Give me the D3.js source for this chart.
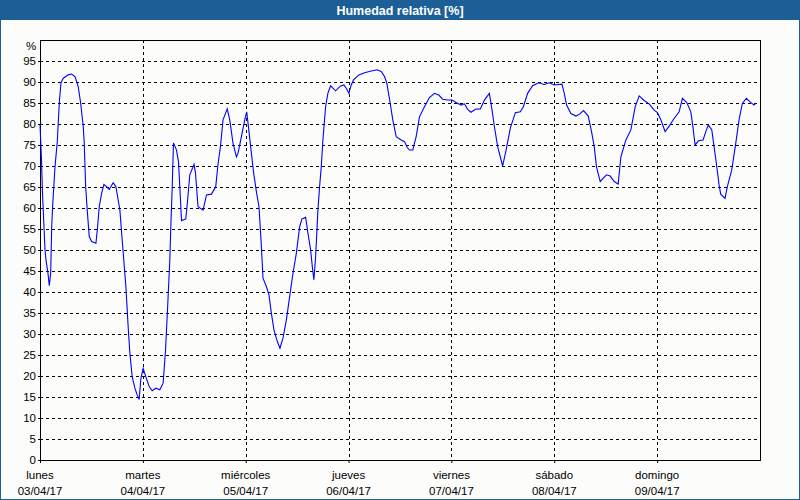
<!DOCTYPE html>
<html>
<head>
<meta charset="utf-8">
<script src="https://cdn.jsdelivr.net/npm/d3@7"></script>
<style>
  html, body { margin: 0; padding: 0; background: #fcfdfb; }
  svg { display: block; }
</style>
</head>
<body>
<script>
// ---- data ----
const title = "Humedad relativa [%]";
const dayNames = ["lunes", "martes", "miércoles", "jueves", "viernes", "sábado", "domingo"];
const dayDates = ["03/04/17", "04/04/17", "05/04/17", "06/04/17", "07/04/17", "08/04/17", "09/04/17"];
const yTicks = [0,5,10,15,20,25,30,35,40,45,50,55,60,65,70,75,80,85,90,95];
const unitLabel = "%";
// hours since 03/04/17 00:00
const hours = [0,0.35,0.58,0.93,1.17,1.4,1.86,2.17,2.49,2.73,2.96,3.5,4.03,4.5,4.89,5.43,6.59,7.39,8.16,8.92,9.48,10.09,10.32,10.65,11.02,11.49,12.05,13.05,13.44,13.82,14.38,14.91,15.54,16.15,17.08,17.71,18.24,18.64,19.27,20.04,20.57,20.97,21.51,22.14,22.67,23.14,23.53,24.07,24.7,25.47,26.17,27.03,27.96,28.73,29.29,29.75,30.29,30.52,30.83,31.15,31.85,32.32,32.62,33.02,34.02,34.41,34.95,35.95,36.28,36.88,38.05,38.84,40.01,41.01,41.55,42.1,42.71,43.69,44.27,45.04,45.83,46.2,47,47.77,48.23,48.54,49.33,49.86,50.49,51.1,51.66,52.03,52.82,53.43,53.99,54.59,55.38,55.99,56.69,57.48,58.25,59.02,59.81,60.58,61.12,61.98,62.52,63.15,63.54,63.91,64.31,64.85,65.24,65.63,66.01,66.64,67.17,67.8,68.97,70.06,70.9,71.46,72.07,72.62,73.16,74.4,75.73,77.29,78.69,79.62,80.39,80.92,81.55,82.32,83.11,84.28,85.05,85.68,86.21,86.98,87.77,88.54,89.71,90.87,92.04,93.04,93.97,95.14,96.16,97.09,98.26,99.03,99.79,100.58,101.59,102.76,103.69,104.85,105.48,106.02,106.79,107.95,108.75,109.75,110.91,112.08,112.78,113.78,114.94,116.34,117.67,118.83,120,121.79,122.33,122.87,123.88,125.05,125.98,126.82,127.92,128.69,129.32,129.85,130.72,131.42,132.19,133.05,133.98,134.91,135.54,136.71,137.87,138.87,139.81,140.97,142.14,143.3,144.07,144.86,145.86,146.8,147.96,149.13,149.9,150.92,151.86,152.39,152.85,153.63,154.72,155.35,155.95,156.75,157.28,157.82,158.45,158.83,159.84,160.38,161.4,162.34,163.11,163.88,164.81,165.75,166.6,166.99];
const humidity = [80,71.4,63.5,55.5,50,47.6,44.5,41.5,44.5,55.5,60.7,69.8,75.8,85,89.8,90.9,91.7,91.9,91.3,88.9,85,79.4,75.5,65.1,59.5,53.2,52,51.6,55.5,60.3,63.5,65.6,65.1,64.4,66,65.1,61.9,59.5,51.2,41.3,31.7,25.4,19.8,17.1,15.5,14.4,19.4,21.8,19.8,17.5,16.5,17.1,16.7,18.3,26.2,35.7,47.6,55.5,64.3,75.5,73.8,71,65.1,57,57.4,61.5,67.9,70.4,68.3,60.3,59.5,63.1,63.3,65.1,70.6,74.6,81,83.6,81,75.4,72.2,73,77,81,82.9,80.2,73,68.3,63.9,60.3,50.8,43.3,41.3,39.3,34.9,31,28.2,26.6,29,33.3,38.9,44.4,49.2,55.5,57.4,57.8,54,50,46,42.9,48.4,59.5,65.1,69.8,76.2,84.1,87.3,89.1,87.9,89,89.3,88.5,87.3,89.3,90.5,91.7,92.2,92.6,92.9,92.5,91.3,89.7,86,81,77,76.2,75.8,74.4,73.8,73.8,77,81.7,84.1,86.3,87.3,86.9,85.9,85.7,85.7,85.1,84.5,84.8,83.5,82.8,83.5,83.6,85.7,87.3,83.3,79.4,74.6,70,73.8,79,82.7,82.9,84.1,87.3,89.1,89.8,89.4,89.8,89.3,89.5,87.3,84.5,82.5,81.9,82.4,83.2,81.9,78.2,74.6,69.8,66.3,67.1,67.9,67.6,66.3,65.7,72.2,76.2,78.6,84.1,86.7,85.6,84.8,83.3,82.7,81,78.2,79.5,81.3,82.9,86.1,85.1,82.9,79,75,76,76.2,78.2,79.8,78.6,74.6,70.6,65.5,63.3,62.3,65.1,69,75.4,81,84.9,86.1,85.2,84.5,84.9];

// ---- layout ----
const W = 800, H = 500;
const plot = { left: 40, right: 760, top: 40, bottom: 460 };
const base = Date.UTC(2017, 3, 3);
const hourMs = 3600 * 1000;

const svg = d3.select("body").append("svg")
  .attr("width", W).attr("height", H)
  .style("font-family", "'Liberation Sans', Arial, sans-serif");

svg.append("rect").attr("x", 0).attr("y", 0).attr("width", W).attr("height", H).attr("fill", "#fcfdfb");

// title bar
svg.append("rect").attr("x", 0).attr("y", 0).attr("width", W).attr("height", 20).attr("fill", "#1c5f96");
svg.append("text").attr("x", W / 2).attr("y", 14.5).attr("text-anchor", "middle")
  .attr("fill", "#ffffff").attr("font-weight", "bold").attr("font-size", "12.5px").text(title);
// outer border
svg.append("rect").attr("x", 0.5).attr("y", 0.5).attr("width", W - 1).attr("height", H - 1)
  .attr("fill", "none").attr("stroke", "#1c5f96").attr("stroke-width", 1);

const x = d3.scaleUtc().domain([new Date(base), new Date(base + 7 * 24 * hourMs)]).range([plot.left, plot.right]);
const y = d3.scaleLinear().domain([0, 100]).range([plot.bottom, plot.top]);

const dayTicks = d3.range(7).map(i => new Date(base + i * 24 * hourMs));

// horizontal grid
svg.append("g").selectAll("line").data(yTicks.filter(v => v > 0)).join("line")
  .attr("x1", plot.left).attr("x2", plot.right)
  .attr("y1", d => Math.round(y(d)) + 0.5).attr("y2", d => Math.round(y(d)) + 0.5)
  .attr("stroke", "#000").attr("stroke-width", 1).attr("stroke-dasharray", "3,3")
  .attr("shape-rendering", "crispEdges");
// vertical grid
svg.append("g").selectAll("line").data(dayTicks.slice(1)).join("line")
  .attr("x1", d => Math.round(x(d)) + 0.5).attr("x2", d => Math.round(x(d)) + 0.5)
  .attr("y1", plot.top).attr("y2", plot.bottom)
  .attr("stroke", "#000").attr("stroke-width", 1).attr("stroke-dasharray", "3,3")
  .attr("shape-rendering", "crispEdges");

// y axis labels
const yAxis = d3.axisLeft(y).tickValues(yTicks).tickSize(2).tickPadding(2);
const gy = svg.append("g").attr("transform", `translate(${plot.left},0)`).call(yAxis);
gy.select(".domain").remove();
gy.selectAll("line").attr("stroke", "#000");
gy.selectAll("text").attr("font-size", "11.5px").attr("fill", "#000")
  .attr("font-family", "'Liberation Sans', Arial, sans-serif");
svg.append("text").attr("x", 31).attr("y", 50).attr("text-anchor", "middle")
  .attr("font-size", "11.5px").attr("fill", "#000").text(unitLabel);

// x axis labels
const xAxis = d3.axisBottom(x).tickValues(dayTicks).tickSize(3).tickFormat(() => "");
const gx = svg.append("g").attr("transform", `translate(0,${plot.bottom})`).call(xAxis);
gx.select(".domain").remove();
gx.selectAll("line").attr("stroke", "#000");
const lab = svg.append("g").selectAll("g").data(dayTicks).join("g")
  .attr("transform", d => `translate(${x(d)},0)`);
lab.append("text").attr("y", 479).attr("text-anchor", "middle").attr("font-size", "11.5px")
  .attr("fill", "#000").text((d, i) => dayNames[i]);
lab.append("text").attr("y", 495).attr("text-anchor", "middle").attr("font-size", "11.5px")
  .attr("fill", "#000").text((d, i) => dayDates[i]);

// frame
svg.append("rect").attr("x", plot.left + 0.5).attr("y", plot.top + 0.5)
  .attr("width", plot.right - plot.left).attr("height", plot.bottom - plot.top)
  .attr("fill", "none").attr("stroke", "#000").attr("stroke-width", 1.3)
  .attr("shape-rendering", "crispEdges");

// data line
const pts = hours.map((h, i) => ({ t: new Date(base + h * hourMs), v: humidity[i] }));
svg.append("path").datum(pts)
  .attr("fill", "none").attr("stroke", "#0000ff").attr("stroke-width", 1.1)
  .attr("d", d3.line().x(d => x(d.t)).y(d => y(d.v)));
</script>
</body>
</html>
